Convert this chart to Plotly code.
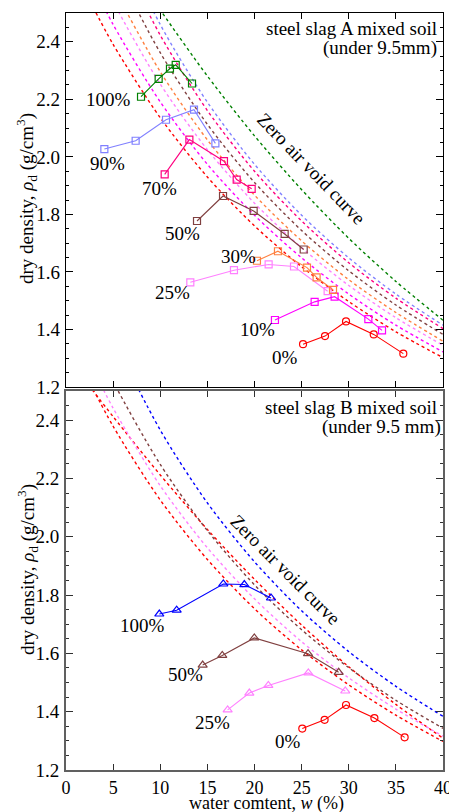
import plotly.graph_objects as go

FONT = "Liberation Serif"

# ---------------- Panel A: steel slag A mixed soil ----------------
w_A0 = [25.15, 27.48, 29.71, 32.65, 35.79]
rho_A0 = [1.349, 1.377, 1.428, 1.383, 1.316]
w_A10 = [22.17, 26.38, 28.50, 32.08, 33.53]
rho_A10 = [1.433, 1.496, 1.514, 1.436, 1.397]
w_A25 = [13.19, 17.82, 21.50, 24.19, 27.76]
rho_A25 = [1.564, 1.606, 1.626, 1.619, 1.533]
w_A30 = [20.26, 22.49, 25.57, 26.59, 28.33]
rho_A30 = [1.639, 1.672, 1.615, 1.581, 1.538]
w_A50 = [13.90, 16.66, 19.91, 23.20, 25.22]
rho_A50 = [1.777, 1.864, 1.812, 1.732, 1.678]
w_A70 = [10.47, 13.09, 16.76, 18.11, 19.70]
rho_A70 = [1.939, 2.060, 1.985, 1.921, 1.889]
w_A90 = [4.07, 7.39, 10.61, 13.58, 15.85]
rho_A90 = [2.027, 2.056, 2.129, 2.164, 2.047]
w_A100 = [7.96, 9.83, 11.03, 11.64, 13.37]
rho_A100 = [2.209, 2.271, 2.307, 2.320, 2.255]

# zero air void curves
zav_w = [2, 5, 10, 15, 20, 25, 30, 35, 40]
zavA_0 = [2.576, 2.391, 2.136, 1.930, 1.760, 1.618, 1.497, 1.392, 1.302]
zavA_10 = [2.656, 2.460, 2.191, 1.974, 1.797, 1.649, 1.523, 1.415, 1.322]
zavA_25 = [2.749, 2.540, 2.253, 2.025, 1.839, 1.684, 1.553, 1.441, 1.345]
zavA_30 = [2.812, 2.594, 2.296, 2.059, 1.867, 1.708, 1.573, 1.459, 1.359]
zavA_50 = [2.913, 2.679, 2.362, 2.113, 1.911, 1.744, 1.604, 1.485, 1.383]
zavA_70 = [3.006, 2.757, 2.423, 2.161, 1.950, 1.777, 1.632, 1.509, 1.403]
zavA_90 = [3.062, 2.805, 2.460, 2.190, 1.974, 1.797, 1.649, 1.523, 1.415]
zavA_100 = [2.918, 2.760, 2.511, 2.281, 2.073, 1.886, 1.717, 1.567, 1.432]

# ---------------- Panel B: steel slag B mixed soil ----------------
w_B0 = [25.07, 27.44, 29.71, 32.72, 35.93]
rho_B0 = [1.342, 1.372, 1.423, 1.378, 1.312]
w_B25 = [17.15, 19.45, 21.47, 25.71, 29.63]
rho_B25 = [1.406, 1.464, 1.490, 1.533, 1.471]
w_B50 = [14.50, 16.58, 19.98, 25.68, 28.93]
rho_B50 = [1.560, 1.593, 1.653, 1.599, 1.535]
w_B100 = [9.90, 11.74, 16.69, 18.92, 21.75]
rho_B100 = [1.735, 1.748, 1.838, 1.836, 1.790]

zavB_0a = [2.562, 2.379, 2.126, 1.922, 1.753, 1.612, 1.492, 1.388, 1.298]
zavB_0b = [2.537, 2.412, 2.212, 2.025, 1.854, 1.697, 1.554, 1.425, 1.309]
zavB_25 = [2.634, 2.441, 2.175, 1.962, 1.787, 1.640, 1.516, 1.409, 1.316]
zavB_50 = [2.741, 2.533, 2.248, 2.021, 1.835, 1.681, 1.551, 1.439, 1.343]
zavB_100 = [2.919, 2.684, 2.366, 2.116, 1.914, 1.746, 1.606, 1.487, 1.384]

y_ticks = [1.2, 1.4, 1.6, 1.8, 2.0, 2.2, 2.4]
y_ticktext = ["1.2", "1.4", "1.6", "1.8", "2.0", "2.2", "2.4"]
x_ticks = [0, 5, 10, 15, 20, 25, 30, 35, 40]

RED = "#ff0000"
MAG = "#ff00ff"
VIO = "#ff80ff"
ORA = "#ff8040"
BRN = "#804040"
PNK = "#ff0080"
LBL = "#8080ff"
GRN = "#008000"
BLU = "#0000ff"

fig = go.Figure()


def zav(xs, ys, color, xa, ya):
    fig.add_trace(go.Scatter(x=xs, y=ys, mode="lines", xaxis=xa, yaxis=ya,
                             line=dict(color=color, width=1.4, dash="dot",
                                       shape="spline", smoothing=0.8),
                             showlegend=False, hoverinfo="skip"))


def data(xs, ys, color, symbol, size, xa, ya):
    fig.add_trace(go.Scatter(x=xs, y=ys, mode="lines+markers", xaxis=xa, yaxis=ya,
                             line=dict(color=color, width=1.1),
                             marker=dict(symbol=symbol, size=size, color=color,
                                         line=dict(color=color, width=1.2)),
                             showlegend=False))


# top panel curves
for ys, c in [(zavA_0, RED), (zavA_10, MAG), (zavA_25, VIO), (zavA_30, ORA),
              (zavA_50, BRN), (zavA_70, PNK), (zavA_90, LBL), (zavA_100, GRN)]:
    zav(zav_w, ys, c, "x", "y")

data(w_A0, rho_A0, RED, "circle-open", 7, "x", "y")
data(w_A10, rho_A10, MAG, "square-open", 7, "x", "y")
data(w_A25, rho_A25, VIO, "square-open", 7, "x", "y")
data(w_A30, rho_A30, ORA, "square-open", 7, "x", "y")
data(w_A50, rho_A50, BRN, "square-open", 7, "x", "y")
data(w_A70, rho_A70, PNK, "square-open", 7, "x", "y")
data(w_A90, rho_A90, LBL, "square-open", 7, "x", "y")
data(w_A100, rho_A100, GRN, "square-open", 7, "x", "y")

# bottom panel curves
for ys, c in [(zavB_0a, RED), (zavB_0b, RED), (zavB_25, VIO), (zavB_50, BRN),
              (zavB_100, BLU)]:
    zav(zav_w, ys, c, "x2", "y2")

data(w_B0, rho_B0, RED, "circle-open", 7, "x2", "y2")
data(w_B25, rho_B25, VIO, "triangle-up-open", 8, "x2", "y2")
data(w_B50, rho_B50, BRN, "triangle-up-open", 8, "x2", "y2")
data(w_B100, rho_B100, BLU, "triangle-up-open", 8, "x2", "y2")

tickfont = dict(family=FONT, size=19, color="black")
xtickfont = dict(family=FONT, size=18, color="black")

common_x = dict(range=[0, 40], tickvals=x_ticks, ticks="inside", ticklen=6,
                tickwidth=1, showline=True, mirror="ticks", zeroline=False,
                showgrid=False, tickfont=xtickfont, automargin=False,
                ticklabelstandoff=0)
common_y = dict(range=[1.2, 2.5], tickvals=y_ticks, ticktext=y_ticktext,
                ticks="inside", ticklen=7, tickwidth=1, showline=True,
                mirror="ticks", zeroline=False, showgrid=False,
                tickfont=tickfont, ticklabelstandoff=1, automargin=False,
                minor=dict(dtick=0.05, tick0=1.2, ticks="inside", ticklen=3,
                           tickwidth=1, showgrid=False))

# the page body adds an 8px offset, so the figure is sized to compensate
fig.update_layout(
    template="none",
    width=449, height=804,
    margin=dict(l=58, r=14, t=5, b=42, autoexpand=False),
    paper_bgcolor="white", plot_bgcolor="white",
    font=dict(family=FONT, size=19, color="black"),
    xaxis=dict(domain=[0, 1], anchor="y", showticklabels=False,
               linecolor="black", tickcolor="black", linewidth=1.2, **common_x),
    yaxis=dict(domain=[0.5059, 1], anchor="x", linecolor="black",
               tickcolor="black", linewidth=1.2, **common_y),
    xaxis2=dict(domain=[0, 1], anchor="y2", linecolor="#606060",
                tickcolor="#303030", linewidth=2, **common_x),
    yaxis2=dict(domain=[0, 0.5007], anchor="x2", linecolor="#606060",
                tickcolor="#303030", linewidth=2, **common_y),
)

ann = []


def label(text, x, y, xa="x", ya="y", size=19, **kw):
    d = dict(text=text, x=x, y=y, xref=xa, yref=ya, showarrow=False,
             xanchor="center", yanchor="middle",
             font=dict(family=FONT, size=size, color="black"))
    d.update(kw)
    ann.append(d)


# top panel labels
label("100%", 4.46, 2.201)
label("90%", 4.35, 1.977)
label("70%", 9.97, 1.890)
label("50%", 12.31, 1.734)
label("30%", 18.25, 1.653)
label("25%", 11.32, 1.530)
label("10%", 20.32, 1.399)
label("0%", 23.24, 1.303)
label("Zero air void curve", 26.0, 1.958, textangle=46)
label("steel slag A mixed soil", 0.99, 0.9795, "paper", "paper",
      xanchor="right")
label("(under 9.5mm)", 0.99, 0.9538, "paper", "paper", xanchor="right")

# bottom panel labels
label("100%", 8.15, 1.696, "x2", "y2")
label("50%", 12.63, 1.529, "x2", "y2")
label("25%", 15.54, 1.363, "x2", "y2")
label("0%", 23.59, 1.297, "x2", "y2")
label("Zero air void curve", 23.24, 1.886, "x2", "y2", textangle=45)
label("steel slag B mixed soil", 0.99, 0.4795, "paper", "paper",
      xanchor="right")
label("(under 9.5 mm)", 1.0, 0.4531, "paper", "paper", xanchor="right")

# axis titles
ytitle = "dry density, <i>ρ</i><sub>d</sub> (g/cm<sup>3</sup>)"
label(ytitle, -0.1034, 0.7543, "paper", "paper", textangle=-90)
label(ytitle, -0.1034, 0.2642, "paper", "paper", textangle=-90)
label("water comtent, <i>w</i> (%)", 0.532, -0.0449, "paper", "paper", size=18)

fig.update_layout(annotations=ann)

fig.write_html("out.html")
